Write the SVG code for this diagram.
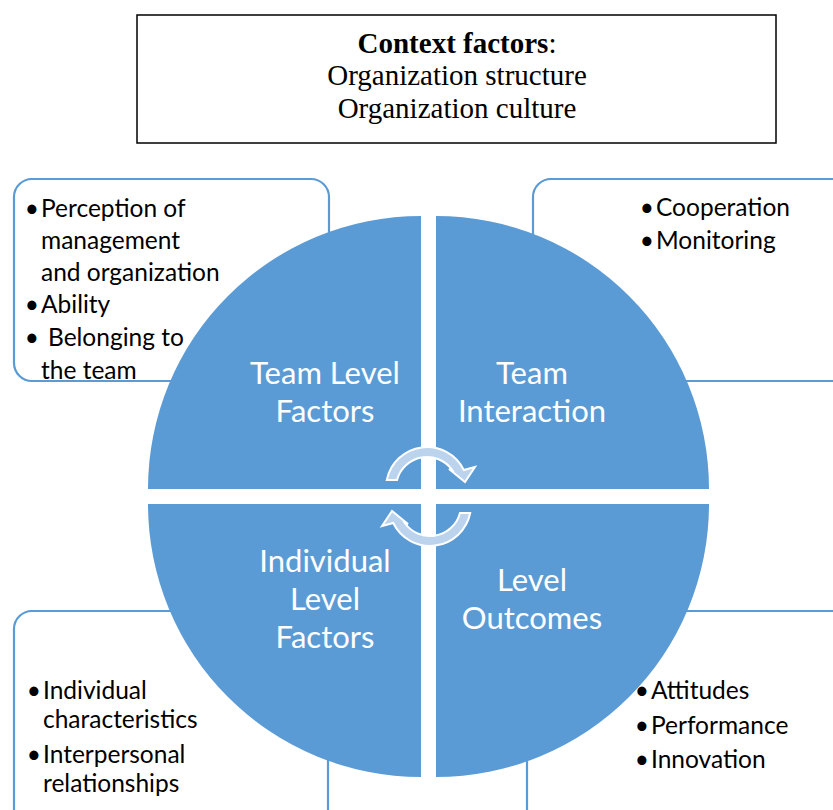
<svg xmlns="http://www.w3.org/2000/svg" width="833" height="810" viewBox="0 0 833 810">
  <style>
    .box { fill: #ffffff; stroke: #5B9BD5; stroke-width: 2.2; }
    .quad { fill: #5B9BD5; }
    .lbl { font-family: Lato, "Open Sans", sans-serif; font-size: 31px; fill: #ffffff; text-anchor: middle; }
    .bul { font-family: Lato, "Open Sans", sans-serif; font-size: 24.5px; fill: #000000; }
    .dot { font-family: Lato, "Open Sans", sans-serif; font-size: 24.5px; fill: #000000; text-anchor: end; }
    .ttl { font-family: "Liberation Serif", "Times New Roman", serif; font-size: 29px; fill: #000000; text-anchor: middle; }
    .cyc { fill: #BCD3EE; stroke: #ffffff; stroke-width: 2; stroke-linejoin: miter; }
  </style>

  <g id="context">
    <rect x="137" y="15" width="639" height="128" fill="#ffffff" stroke="#000000" stroke-width="1.5"/>
    <text class="ttl" x="457" y="53"><tspan font-weight="bold">Context factors</tspan>:</text>
    <text class="ttl" x="457" y="85">Organization structure</text>
    <text class="ttl" x="457" y="118">Organization culture</text>
  </g>

  <g id="box-team-level">
    <rect class="box" x="14" y="179" width="315" height="202" rx="18" ry="18"/>
  </g>
  <g id="box-team-interaction">
    <rect class="box" x="533" y="179" width="320" height="202" rx="18" ry="18"/>
  </g>
  <g id="box-individual">
    <rect class="box" x="14" y="611" width="314" height="220" rx="18" ry="18"/>
  </g>
  <g id="box-outcomes">
    <rect class="box" x="527" y="611" width="330" height="220" rx="18" ry="18"/>
  </g>

  <g id="q-team-level">
    <path class="quad" d="M421,489 L148,489 A273,273 0 0 1 421,216 Z"/>
    <text class="lbl" x="325" y="384">Team Level</text>
    <text class="lbl" x="325" y="422">Factors</text>
  </g>
  <g id="q-team-interaction">
    <path class="quad" d="M436,489 L436,216 A273,273 0 0 1 709,489 Z"/>
    <text class="lbl" x="532" y="384">Team</text>
    <text class="lbl" x="532" y="422">Interaction</text>
  </g>
  <g id="q-individual">
    <path class="quad" d="M421,504 L421,777 A273,273 0 0 1 148,504 Z"/>
    <text class="lbl" x="325" y="572">Individual</text>
    <text class="lbl" x="325" y="610">Level</text>
    <text class="lbl" x="325" y="648">Factors</text>
  </g>
  <g id="q-outcomes">
    <path class="quad" d="M436,504 L709,504 A273,273 0 0 1 436,777 Z"/>
    <text class="lbl" x="532" y="591">Level</text>
    <text class="lbl" x="532" y="629">Outcomes</text>
  </g>

  <g id="connectors">
    <path id="cycle-top" class="cyc" d="M386.8,480 A41,41 0 0 1 463.8,470 L475,467 L465,482 L449,469 L452.2,470 A31,31 0 0 0 397,480 Z"/>
    <use href="#cycle-top" transform="rotate(180 428.5 496.5)"/>
  </g>

  <g id="text-team-level">
    <text class="dot" x="39" y="217">•</text>
    <text class="bul" x="41" y="217">Perception of</text>
    <text class="bul" x="41" y="249">management</text>
    <text class="bul" x="41" y="281">and organization</text>
    <text class="dot" x="39" y="313">•</text>
    <text class="bul" x="41" y="313">Ability</text>
    <text class="dot" x="39" y="346">•</text>
    <text class="bul" x="48" y="346">Belonging to</text>
    <text class="bul" x="41" y="379">the team</text>
  </g>
  <g id="text-team-interaction">
    <text class="dot" x="654" y="216">•</text>
    <text class="bul" x="656" y="216">Cooperation</text>
    <text class="dot" x="654" y="249">•</text>
    <text class="bul" x="656" y="249">Monitoring</text>
  </g>
  <g id="text-individual">
    <text class="dot" x="41" y="699">•</text>
    <text class="bul" x="43" y="699">Individual</text>
    <text class="bul" x="43" y="728">characteristics</text>
    <text class="dot" x="41" y="763">•</text>
    <text class="bul" x="43" y="763">Interpersonal</text>
    <text class="bul" x="43" y="792">relationships</text>
  </g>
  <g id="text-outcomes">
    <text class="dot" x="649" y="699">•</text>
    <text class="bul" x="651" y="699">Attitudes</text>
    <text class="dot" x="649" y="734">•</text>
    <text class="bul" x="651" y="734">Performance</text>
    <text class="dot" x="649" y="768">•</text>
    <text class="bul" x="651" y="768">Innovation</text>
  </g>
</svg>
